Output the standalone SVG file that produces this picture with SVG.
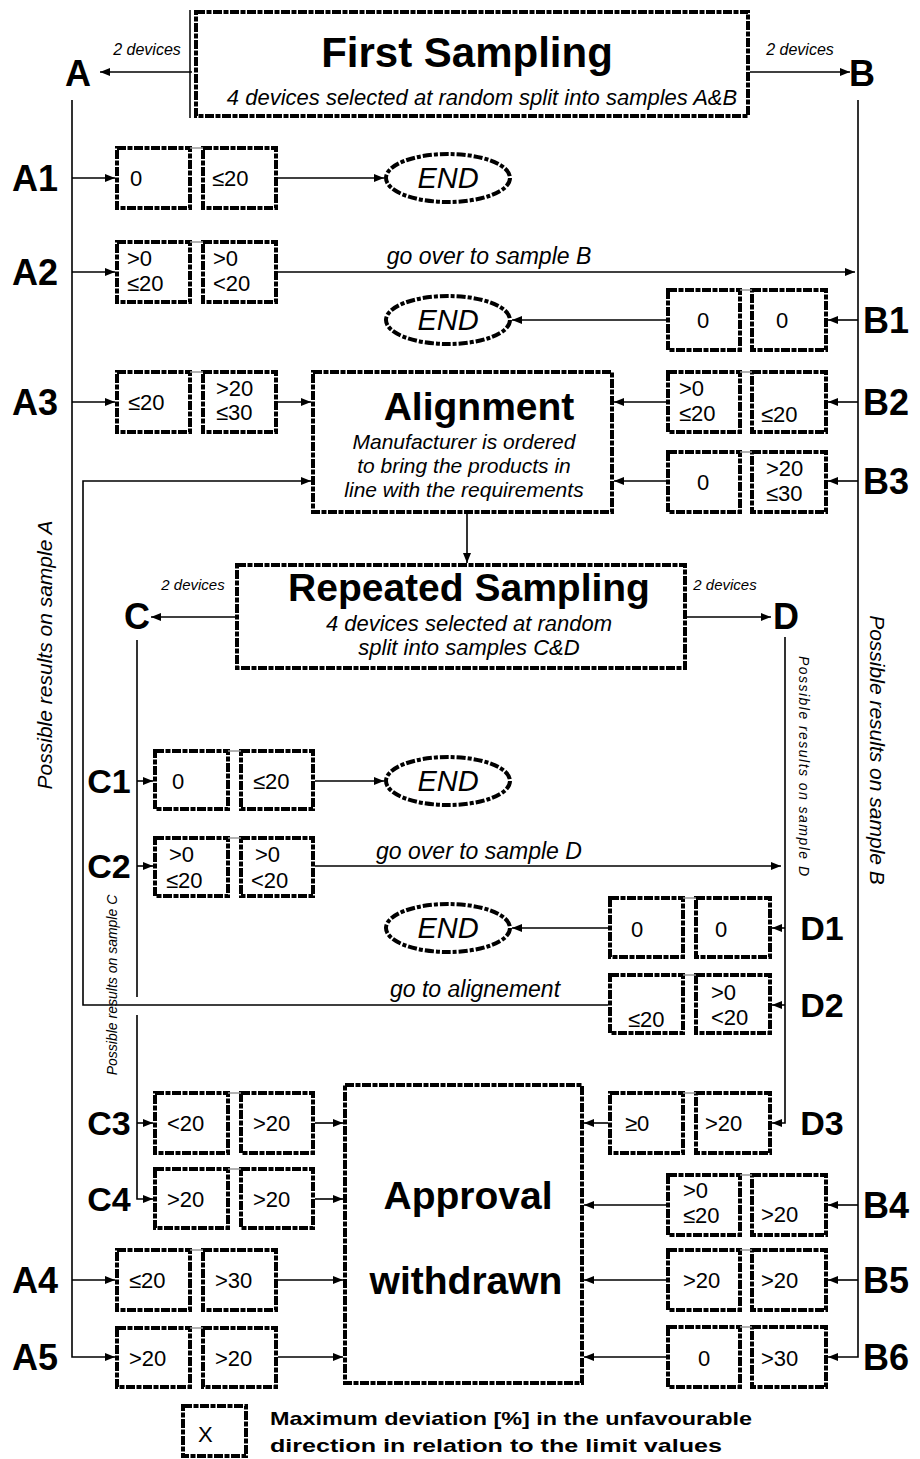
<svg xmlns="http://www.w3.org/2000/svg" width="920" height="1459" viewBox="0 0 920 1459">
<style>
text{font-family:"Liberation Sans",Arial,sans-serif;fill:#000}
.box{fill:#fff;stroke:#000;stroke-width:4;stroke-dasharray:9 1.5 5 1.5}
.br{stroke:#999;stroke-width:1.5}
.ln{stroke:#000;stroke-width:1.6;fill:none}
.lbl{font-weight:bold;font-size:36px;text-anchor:middle}
.lc{font-weight:bold;font-size:34px;text-anchor:middle}
.big{font-weight:bold;font-size:39px;text-anchor:middle}
.v{font-size:22px}
.it{font-style:italic}
.mid{text-anchor:middle}
.title{font-weight:bold;font-size:42px;text-anchor:middle}
.end{font-style:italic;font-size:29px;text-anchor:middle}
.ell{fill:#fff;stroke:#000;stroke-width:4;stroke-dasharray:9 2 4 2}
</style>
<defs>
<marker id="ah" markerUnits="userSpaceOnUse" markerWidth="10" markerHeight="8" refX="10" refY="4" orient="auto">
<path d="M0,0 L10,4 L0,8 z" fill="#000"/>
</marker>
</defs>
<rect width="920" height="1459" fill="#fff"/>

<g id="connectors">
<line class="ln" x1="192" y1="72" x2="100" y2="72" marker-end="url(#ah)"/>
<line class="ln" x1="750" y1="72" x2="850" y2="72" marker-end="url(#ah)"/>
<path class="ln" d="M72,100 V1357 H115" marker-end="url(#ah)"/>
<line class="ln" x1="72" y1="178" x2="115" y2="178" marker-end="url(#ah)"/>
<line class="ln" x1="72" y1="272" x2="115" y2="272" marker-end="url(#ah)"/>
<line class="ln" x1="72" y1="402" x2="115" y2="402" marker-end="url(#ah)"/>
<line class="ln" x1="72" y1="1280" x2="115" y2="1280" marker-end="url(#ah)"/>
<path class="ln" d="M858,100 V1357 H828" marker-end="url(#ah)"/>
<line class="ln" x1="858" y1="320" x2="828" y2="320" marker-end="url(#ah)"/>
<line class="ln" x1="858" y1="402" x2="828" y2="402" marker-end="url(#ah)"/>
<line class="ln" x1="858" y1="481" x2="828" y2="481" marker-end="url(#ah)"/>
<line class="ln" x1="858" y1="1205" x2="828" y2="1205" marker-end="url(#ah)"/>
<line class="ln" x1="858" y1="1280" x2="828" y2="1280" marker-end="url(#ah)"/>
<line class="ln" x1="278" y1="178" x2="384" y2="178" marker-end="url(#ah)"/>
<line class="ln" x1="278" y1="272" x2="855" y2="272" marker-end="url(#ah)"/>
<line class="ln" x1="666" y1="320" x2="512" y2="320" marker-end="url(#ah)"/>
<line class="ln" x1="278" y1="402" x2="311" y2="402" marker-end="url(#ah)"/>
<line class="ln" x1="666" y1="402" x2="614" y2="402" marker-end="url(#ah)"/>
<line class="ln" x1="666" y1="481" x2="614" y2="481" marker-end="url(#ah)"/>
<line class="ln" x1="467" y1="514" x2="467" y2="563" marker-end="url(#ah)"/>
<line class="ln" x1="235" y1="617" x2="151" y2="617" marker-end="url(#ah)"/>
<line class="ln" x1="687" y1="617" x2="771" y2="617" marker-end="url(#ah)"/>
<line class="ln" x1="137" y1="640" x2="137" y2="997"/>
<path class="ln" d="M137,1015 V1199 H153" marker-end="url(#ah)"/>
<line class="ln" x1="137" y1="781" x2="153" y2="781" marker-end="url(#ah)"/>
<line class="ln" x1="137" y1="866" x2="153" y2="866" marker-end="url(#ah)"/>
<line class="ln" x1="137" y1="1123" x2="153" y2="1123" marker-end="url(#ah)"/>
<path class="ln" d="M785,637 V1123 H772" marker-end="url(#ah)"/>
<line class="ln" x1="785" y1="928" x2="772" y2="928" marker-end="url(#ah)"/>
<line class="ln" x1="785" y1="1005" x2="772" y2="1005" marker-end="url(#ah)"/>
<line class="ln" x1="315" y1="781" x2="384" y2="781" marker-end="url(#ah)"/>
<line class="ln" x1="315" y1="866" x2="781" y2="866" marker-end="url(#ah)"/>
<line class="ln" x1="608" y1="928" x2="512" y2="928" marker-end="url(#ah)"/>
<path class="ln" d="M608,1005 H83 V481 H311" marker-end="url(#ah)"/>
<line class="ln" x1="315" y1="1123" x2="343" y2="1123" marker-end="url(#ah)"/>
<line class="ln" x1="315" y1="1199" x2="343" y2="1199" marker-end="url(#ah)"/>
<line class="ln" x1="278" y1="1280" x2="343" y2="1280" marker-end="url(#ah)"/>
<line class="ln" x1="278" y1="1357" x2="343" y2="1357" marker-end="url(#ah)"/>
<line class="ln" x1="608" y1="1123" x2="584" y2="1123" marker-end="url(#ah)"/>
<line class="ln" x1="666" y1="1205" x2="584" y2="1205" marker-end="url(#ah)"/>
<line class="ln" x1="666" y1="1280" x2="584" y2="1280" marker-end="url(#ah)"/>
<line class="ln" x1="666" y1="1357" x2="584" y2="1357" marker-end="url(#ah)"/>
<text class="it mid" x="147" y="55" font-size="16">2 devices</text>
<text class="it mid" x="800" y="55" font-size="16">2 devices</text>
<text class="it mid" x="193" y="590" font-size="15">2 devices</text>
<text class="it mid" x="725" y="590" font-size="15">2 devices</text>
<text class="it mid" x="489" y="264" font-size="23">go over to sample B</text>
<text class="it mid" x="479" y="859" font-size="23">go over to sample D</text>
<text class="it mid" x="475" y="997" font-size="23">go to alignement</text>
<text class="it mid" font-size="21" transform="translate(52,655) rotate(-90)">Possible results on sample A</text>
<text class="it mid" font-size="21" transform="translate(870,750) rotate(90)">Possible results on sample B</text>
<text class="it mid" font-size="14" textLength="220" transform="translate(799,766) rotate(90)">Possible results on sample D</text>
<text class="it mid" font-size="14" transform="translate(117,985) rotate(-90)">Possible results on sample C</text>
</g>

<g id="first-sampling">
<line x1="190" y1="10" x2="190" y2="118" stroke="#000" stroke-width="1.5"/>
<rect class="box" x="196" y="12" width="552" height="104"/>
<text class="title" x="467" y="67">First Sampling</text>
<text class="it mid" x="482" y="105" font-size="22">4 devices selected at random split into samples A&amp;B</text>
</g>
<g id="label-A"><text class="lbl" x="78" y="86" font-size="44">A</text></g>
<g id="label-B"><text class="lbl" x="862" y="86" font-size="44">B</text></g>

<g id="row-A1">
<text class="lbl" x="35" y="191">A1</text>
<rect class="box" x="117" y="148" width="73" height="60"/><rect class="box" x="203" y="148" width="73" height="60"/>
<line class="br" x1="190" y1="148" x2="203" y2="148"/>
<text class="v" x="130" y="186">0</text><text class="v" x="212" y="186">≤20</text>
</g>
<g id="end-1"><ellipse class="ell" cx="448" cy="178" rx="62" ry="24"/><text class="end" x="448" y="188">END</text></g>

<g id="row-A2">
<text class="lbl" x="35" y="285">A2</text>
<rect class="box" x="117" y="242" width="73" height="60"/><rect class="box" x="203" y="242" width="73" height="60"/>
<line class="br" x1="190" y1="242" x2="203" y2="242"/>
<text class="v" x="127" y="266">&gt;0</text><text class="v" x="127" y="291">≤20</text>
<text class="v" x="213" y="266">&gt;0</text><text class="v" x="213" y="291">&lt;20</text>
</g>

<g id="row-B1">
<text class="lbl" x="886" y="333">B1</text>
<rect class="box" x="668" y="290" width="72" height="60"/><rect class="box" x="752" y="290" width="74" height="60"/>
<line class="br" x1="740" y1="290" x2="752" y2="290"/>
<text class="v" x="697" y="328">0</text><text class="v" x="776" y="328">0</text>
</g>
<g id="end-2"><ellipse class="ell" cx="448" cy="320" rx="62" ry="24"/><text class="end" x="448" y="330">END</text></g>

<g id="row-A3">
<text class="lbl" x="35" y="415">A3</text>
<rect class="box" x="117" y="372" width="73" height="60"/><rect class="box" x="203" y="372" width="73" height="60"/>
<line class="br" x1="190" y1="372" x2="203" y2="372"/>
<text class="v" x="128" y="410">≤20</text>
<text class="v" x="216" y="396">&gt;20</text><text class="v" x="216" y="420">≤30</text>
</g>

<g id="row-B2">
<text class="lbl" x="886" y="415">B2</text>
<rect class="box" x="668" y="372" width="72" height="60"/><rect class="box" x="752" y="372" width="74" height="60"/>
<line class="br" x1="740" y1="372" x2="752" y2="372"/>
<text class="v" x="679" y="396">&gt;0</text><text class="v" x="679" y="421">≤20</text>
<text class="v" x="761" y="422">≤20</text>
</g>

<g id="row-B3">
<text class="lbl" x="886" y="494">B3</text>
<rect class="box" x="668" y="452" width="72" height="60"/><rect class="box" x="752" y="452" width="74" height="60"/>
<line class="br" x1="740" y1="452" x2="752" y2="452"/>
<text class="v" x="697" y="490">0</text>
<text class="v" x="766" y="476">&gt;20</text><text class="v" x="766" y="501">≤30</text>
</g>

<g id="alignment">
<rect class="box" x="313" y="372" width="299" height="140"/>
<text class="big" x="479" y="420">Alignment</text>
<text class="it mid" x="464" y="449" font-size="21">Manufacturer is ordered</text>
<text class="it mid" x="464" y="473" font-size="21">to bring the products in</text>
<text class="it mid" x="464" y="497" font-size="21">line with the requirements</text>
</g>

<g id="repeated-sampling">
<rect class="box" x="237" y="565" width="448" height="103"/>
<text class="big" x="469" y="601">Repeated Sampling</text>
<text class="it mid" x="469" y="631" font-size="22">4 devices selected at random</text>
<text class="it mid" x="469" y="655" font-size="22">split into samples C&amp;D</text>
</g>
<g id="label-C"><text class="lbl" x="137" y="629" font-size="40">C</text></g>
<g id="label-D"><text class="lbl" x="786" y="629" font-size="40">D</text></g>

<g id="row-C1">
<text class="lc" x="109" y="793">C1</text>
<rect class="box" x="155" y="751" width="73" height="58"/><rect class="box" x="241" y="751" width="72" height="58"/>
<line class="br" x1="228" y1="751" x2="241" y2="751"/>
<text class="v" x="172" y="789">0</text><text class="v" x="253" y="789">≤20</text>
</g>
<g id="end-3"><ellipse class="ell" cx="448" cy="781" rx="62" ry="24"/><text class="end" x="448" y="791">END</text></g>

<g id="row-C2">
<text class="lc" x="109" y="878">C2</text>
<rect class="box" x="155" y="838" width="73" height="58"/><rect class="box" x="241" y="838" width="72" height="58"/>
<line class="br" x1="228" y1="838" x2="241" y2="838"/>
<text class="v" x="169" y="862">&gt;0</text><text class="v" x="166" y="888">≤20</text>
<text class="v" x="255" y="862">&gt;0</text><text class="v" x="251" y="888">&lt;20</text>
</g>

<g id="row-D1">
<text class="lc" x="822" y="940">D1</text>
<rect class="box" x="610" y="898" width="73" height="59"/><rect class="box" x="696" y="898" width="74" height="59"/>
<line class="br" x1="683" y1="898" x2="696" y2="898"/>
<text class="v" x="631" y="937">0</text><text class="v" x="715" y="937">0</text>
</g>
<g id="end-4"><ellipse class="ell" cx="448" cy="928" rx="62" ry="24"/><text class="end" x="448" y="938">END</text></g>

<g id="row-D2">
<text class="lc" x="822" y="1017">D2</text>
<rect class="box" x="610" y="975" width="73" height="58"/><rect class="box" x="696" y="975" width="74" height="58"/>
<line class="br" x1="683" y1="975" x2="696" y2="975"/>
<text class="v" x="628" y="1027">≤20</text>
<text class="v" x="711" y="1000">&gt;0</text><text class="v" x="711" y="1025">&lt;20</text>
</g>

<g id="row-C3">
<text class="lc" x="109" y="1135">C3</text>
<rect class="box" x="155" y="1093" width="73" height="60"/><rect class="box" x="241" y="1093" width="72" height="60"/>
<line class="br" x1="228" y1="1093" x2="241" y2="1093"/>
<text class="v" x="167" y="1131">&lt;20</text><text class="v" x="253" y="1131">&gt;20</text>
</g>

<g id="row-D3">
<text class="lc" x="822" y="1135">D3</text>
<rect class="box" x="610" y="1093" width="73" height="60"/><rect class="box" x="696" y="1093" width="74" height="60"/>
<line class="br" x1="683" y1="1093" x2="696" y2="1093"/>
<text class="v" x="625" y="1131">≥0</text><text class="v" x="705" y="1131">&gt;20</text>
</g>

<g id="row-C4">
<text class="lc" x="109" y="1211">C4</text>
<rect class="box" x="155" y="1169" width="73" height="59"/><rect class="box" x="241" y="1169" width="72" height="59"/>
<line class="br" x1="228" y1="1169" x2="241" y2="1169"/>
<text class="v" x="167" y="1207">&gt;20</text><text class="v" x="253" y="1207">&gt;20</text>
</g>

<g id="row-B4">
<text class="lbl" x="886" y="1218">B4</text>
<rect class="box" x="668" y="1175" width="72" height="60"/><rect class="box" x="752" y="1175" width="74" height="60"/>
<line class="br" x1="740" y1="1175" x2="752" y2="1175"/>
<text class="v" x="683" y="1198">&gt;0</text><text class="v" x="683" y="1223">≤20</text>
<text class="v" x="761" y="1222">&gt;20</text>
</g>

<g id="row-A4">
<text class="lbl" x="35" y="1293">A4</text>
<rect class="box" x="117" y="1250" width="73" height="60"/><rect class="box" x="203" y="1250" width="73" height="60"/>
<line class="br" x1="190" y1="1250" x2="203" y2="1250"/>
<text class="v" x="129" y="1288">≤20</text><text class="v" x="215" y="1288">&gt;30</text>
</g>

<g id="row-B5">
<text class="lbl" x="886" y="1293">B5</text>
<rect class="box" x="668" y="1250" width="72" height="60"/><rect class="box" x="752" y="1250" width="74" height="60"/>
<line class="br" x1="740" y1="1250" x2="752" y2="1250"/>
<text class="v" x="683" y="1288">&gt;20</text><text class="v" x="761" y="1288">&gt;20</text>
</g>

<g id="row-A5">
<text class="lbl" x="35" y="1370">A5</text>
<rect class="box" x="117" y="1328" width="73" height="59"/><rect class="box" x="203" y="1328" width="73" height="59"/>
<line class="br" x1="190" y1="1328" x2="203" y2="1328"/>
<text class="v" x="129" y="1366">&gt;20</text><text class="v" x="215" y="1366">&gt;20</text>
</g>

<g id="row-B6">
<text class="lbl" x="886" y="1370">B6</text>
<rect class="box" x="668" y="1327" width="72" height="60"/><rect class="box" x="752" y="1327" width="74" height="60"/>
<line class="br" x1="740" y1="1327" x2="752" y2="1327"/>
<text class="v" x="698" y="1366">0</text><text class="v" x="761" y="1366">&gt;30</text>
</g>

<g id="approval">
<rect class="box" x="345" y="1085" width="237" height="298"/>
<text class="big" x="468" y="1209" font-size="40">Approval</text>
<text class="big" x="466" y="1294" font-size="38">withdrawn</text>
</g>

<g id="legend">
<rect class="box" x="183" y="1406" width="63" height="50"/>
<text class="v" x="198" y="1442">X</text>
<text x="270" y="1425" font-size="19" font-weight="bold" textLength="482" lengthAdjust="spacingAndGlyphs">Maximum deviation [%] in the unfavourable</text>
<text x="270" y="1452" font-size="19" font-weight="bold" textLength="452" lengthAdjust="spacingAndGlyphs">direction in relation to the limit values</text>
</g>
</svg>
